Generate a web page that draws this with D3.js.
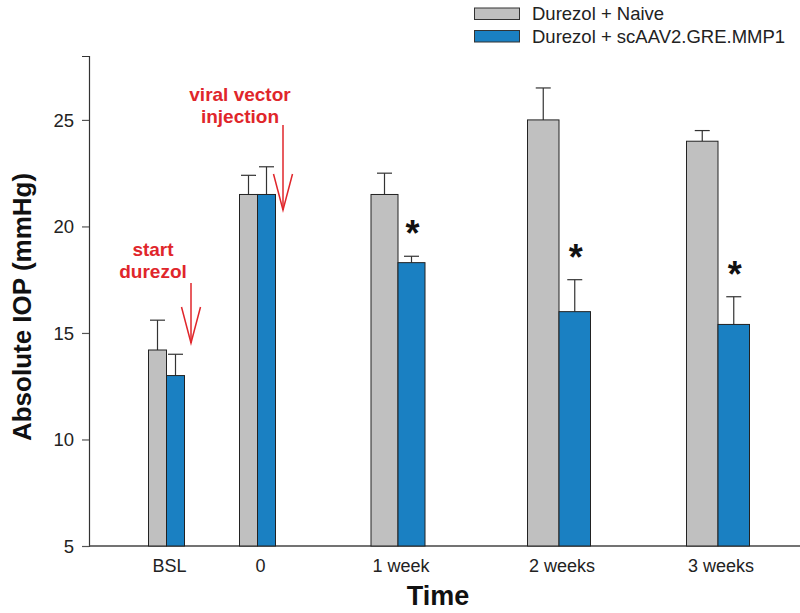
<!DOCTYPE html>
<html><head><meta charset="utf-8">
<script src="https://cdn.jsdelivr.net/npm/d3@7"></script>
<style>body{margin:0;background:#fff}svg{display:block;font-family:"Liberation Sans",Arial,sans-serif}</style>
</head><body><svg id="c" width="800" height="613"></svg>
<script>
const categories = ["BSL", "0", "1 week", "2 weeks", "3 weeks"];
const seriesNames = ["Durezol + Naive", "Durezol + scAAV2.GRE.MMP1"];
const naiveMean = [14.2, 21.5, 21.5, 25.0, 24.0];
const naiveErr  = [1.4, 0.9, 1.0, 1.5, 0.5];
const mmp1Mean  = [13.0, 21.5, 18.3, 16.0, 15.4];
const mmp1Err   = [1.0, 1.3, 0.3, 1.5, 1.3];
const significant = [false, false, true, true, true];
const yTicks = [5, 10, 15, 20, 25];
const annotations = [
  {lines: ["start", "durezol"]},
  {lines: ["viral vector", "injection"]}
];

const colors = ["#c0c0c0", "#1a80c2"];
const svg = d3.select("#c");
const y = d3.scaleLinear().domain([5, 28]).range([546, 56]);
const xCenter = d3.scaleOrdinal().domain(categories).range([166.5, 257.5, 398, 559, 718]);
const barW = d3.scaleOrdinal().domain(categories).range([18, 18, 27, 31.5, 31.5]);

// axes
const yAxis = d3.axisLeft(y).tickValues(yTicks).tickSize(7).tickPadding(8).tickFormat(d3.format("d"));
const gy = svg.append("g").attr("transform", "translate(89,0)").call(yAxis);
gy.select(".domain").attr("stroke", "#333").attr("stroke-width", 1.2);
gy.selectAll(".tick line").attr("stroke", "#555").attr("stroke-width", 1.2);
gy.selectAll(".tick text").attr("font-size", 18.5).attr("fill", "#222").attr("dy", "0.34em").attr("font-family", "Liberation Sans, Arial");

svg.append("line").attr("x1", 89).attr("x2", 800).attr("y1", y(5)).attr("y2", y(5))
  .attr("stroke", "#444").attr("stroke-width", 1.5);

// x labels
svg.append("g").selectAll("text").data(categories).join("text")
  .attr("x", d => xCenter(d) + 3).attr("y", 572).attr("text-anchor", "middle")
  .attr("font-size", 18).attr("fill", "#222").text(d => d);

// bars
const series = [
  {mean: naiveMean, err: naiveErr, off: -1},
  {mean: mmp1Mean, err: mmp1Err, off: 0}
];
series.forEach((s, si) => {
  const g = svg.append("g");
  categories.forEach((c, i) => {
    const w = barW(c);
    const x0 = xCenter(c) + s.off * w;
    const cx = x0 + w / 2;
    g.append("line").attr("x1", cx).attr("x2", cx).attr("y1", y(s.mean[i])).attr("y2", y(s.mean[i] + s.err[i]))
      .attr("stroke", "#333").attr("stroke-width", 1.2);
    g.append("line").attr("x1", cx - 7.5).attr("x2", cx + 7.5).attr("y1", y(s.mean[i] + s.err[i])).attr("y2", y(s.mean[i] + s.err[i]))
      .attr("stroke", "#333").attr("stroke-width", 1.2);
    g.append("rect").attr("x", x0).attr("y", y(s.mean[i])).attr("width", w).attr("height", y(5) - y(s.mean[i]))
      .attr("fill", colors[si]).attr("stroke", "#222").attr("stroke-width", 1);
  });
});

// significance stars
categories.forEach((c, i) => {
  if (!significant[i]) return;
  const w = barW(c);
  svg.append("text").attr("x", xCenter(c) + w / 2 + 1).attr("y", y(mmp1Mean[i] + mmp1Err[i]) - 10)
    .attr("text-anchor", "middle").attr("font-size", 36).attr("font-weight", "bold").attr("fill", "#111").text("*");
});

// annotations
const red = "#e0262b";
const annPos = [{x: 153, y: 256, ax: 191, ay1: 283, ay2: 343}, {x: 240, y: 101, ax: 283, ay1: 125, ay2: 210}];
annotations.forEach((a, k) => {
  const p = annPos[k];
  a.lines.forEach((t, j) => {
    svg.append("text").attr("x", p.x).attr("y", p.y + j * 22).attr("text-anchor", "middle")
      .attr("font-size", 19).attr("font-weight", "bold").attr("fill", red).text(t);
  });
  svg.append("line").attr("x1", p.ax).attr("x2", p.ax).attr("y1", p.ay1).attr("y2", p.ay2).attr("stroke", red).attr("stroke-width", 1.5);
  svg.append("path").attr("d", `M${p.ax - 9.5},${p.ay2 - 36} L${p.ax},${p.ay2} L${p.ax + 9.5},${p.ay2 - 36}`)
    .attr("fill", "none").attr("stroke", red).attr("stroke-width", 1.5);
});

// axis titles
svg.append("text").attr("transform", "translate(31,307) rotate(-90)").attr("text-anchor", "middle")
  .attr("font-size", 26).attr("font-weight", "bold").attr("fill", "#111").text("Absolute IOP (mmHg)");
svg.append("text").attr("x", 438).attr("y", 605).attr("text-anchor", "middle")
  .attr("font-size", 27).attr("font-weight", "bold").attr("fill", "#111").text("Time");

// legend
const lg = svg.append("g");
seriesNames.forEach((n, i) => {
  lg.append("rect").attr("x", 474.5).attr("y", 8 + i * 22.5).attr("width", 45).attr("height", 11.5)
    .attr("fill", colors[i]).attr("stroke", "#333").attr("stroke-width", 1);
  lg.append("text").attr("x", 532).attr("y", 20 + i * 22.5).attr("font-size", 18.5).attr("fill", "#222").text(n);
});
</script></body></html>
